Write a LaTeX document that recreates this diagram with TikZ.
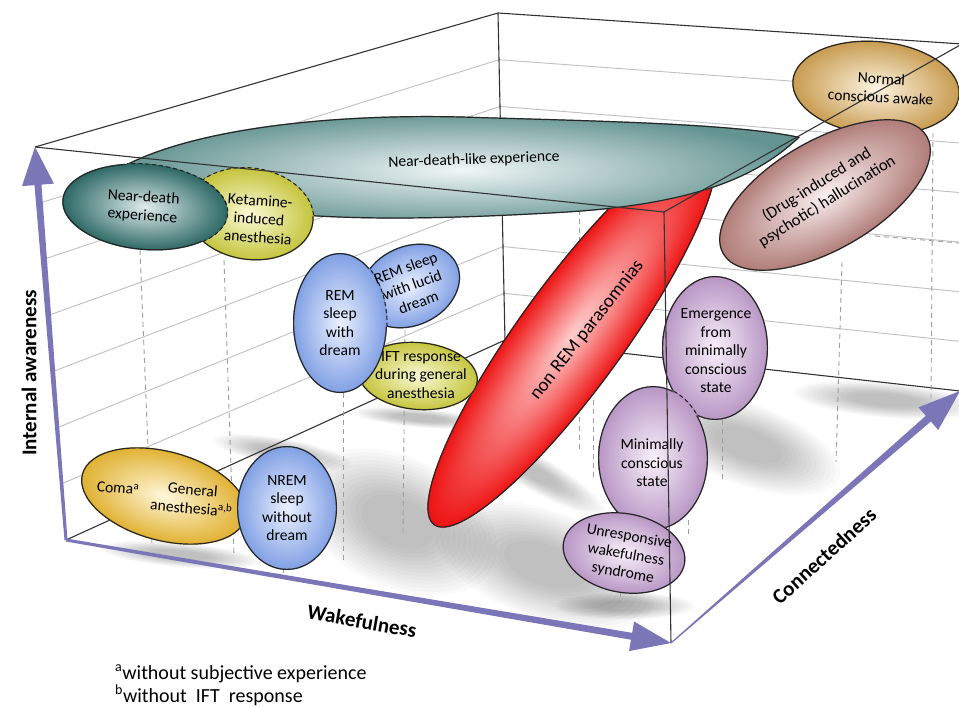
\documentclass[tikz,border=0pt]{standalone}
\usepackage{fontspec}
\setmainfont{Carlito}
\usetikzlibrary{calc}
\definecolor{axiscol}{RGB}{122,118,184}
\definecolor{Tin}{RGB}{240,246,246}\definecolor{Tout}{RGB}{100,148,146}
\definecolor{Nin}{RGB}{222,235,234}\definecolor{Nout}{RGB}{44,104,101}
\definecolor{Kin}{RGB}{250,250,215}\definecolor{Kout}{RGB}{196,196,60}
\definecolor{Cin}{RGB}{255,248,220}\definecolor{Cout}{RGB}{224,176,48}
\definecolor{Bin}{RGB}{235,240,255}\definecolor{Bout}{RGB}{128,160,228}
\definecolor{Lin}{RGB}{248,240,250}\definecolor{Lout}{RGB}{184,150,196}
\definecolor{Hin}{RGB}{250,240,240}\definecolor{Hout}{RGB}{176,124,120}
\definecolor{Min}{RGB}{252,244,225}\definecolor{Mout}{RGB}{200,155,80}
\definecolor{Rin}{RGB}{255,205,205}\definecolor{Rout}{RGB}{238,18,18}
\tikzset{
 gridl/.style={draw=black!25, line width=0.9pt},
 boxl/.style={draw=black!80, line width=1.1pt},
 dropl/.style={draw=black!38, line width=0.9pt, dash pattern=on 5pt off 4pt},
 dashb/.style={draw=black!85, line width=1.1pt, dash pattern=on 4pt off 3pt},
 lbl/.style={align=center, font=\fontsize{15.6}{18.5}\selectfont, inner sep=0pt},
 axl/.style={font=\fontsize{21}{25}\selectfont\bfseries, inner sep=0pt},
 shadowc/.style={fill=black, opacity=0.019},
}
% ellipse data: cx, cy, rx, ry, angle
\def\ovN{{145}{207}{83}{43}{-5}}
\def\ovK{{250}{214}{64}{46}{-8}}
\def\ovNm{{876}{88}{84}{47}{-5}}
\def\ovH{{825}{195}{118}{55}{30}}
\def\ovR{{572}{335}{235}{53}{54}}
\def\ovD{{340}{323}{47}{70}{0}}
\def\ovL{{410}{286}{52}{40}{25}}
\def\ovI{{418}{376}{60}{34}{-5}}
\def\ovC{{164}{496}{85}{45}{-15}}
\def\ovNr{{287}{508}{50}{62}{0}}
\def\ovE{{715}{348}{53}{72}{0}}
\def\ovM{{653}{458}{55}{72}{0}}
\def\ovU{{624}{553}{62}{40}{-10}}
\def\Tpath{(123,166) .. controls (200,125) and (350,112) .. (480,117) .. controls (620,121) and (740,124) .. (800,137) .. controls (760,175) and (700,205) .. (560,213) .. controls (400,222) and (200,228) .. (123,166) -- cycle}
\newcommand\ellclip[5]{\clip[rotate around={#5:(#1,#2)}] (#1,#2) ellipse [x radius=#3, y radius=#4];}
\newcommand\elldraw[6]{\draw[#6, rotate around={#5:(#1,#2)}] (#1,#2) ellipse [x radius=#3, y radius=#4];}
\newcommand\ellbase[7]{%
 \begin{scope}[transform canvas={shift={(#1,#2)},rotate=#5}]
  \clip (0,0) ellipse [x radius=#3, y radius=#4];
  \shade[inner color=#6, outer color=#7] (0,0) ellipse [x radius=#3, y radius=#4];
  \draw[line width=2.4pt, black!85] (0,0) ellipse [x radius=#3, y radius=#4];
 \end{scope}}
\newcommand\ellshade[7]{%
 \begin{scope}[transform canvas={shift={(#1,#2)},rotate=#5}]
  \clip (0,0) ellipse [x radius=#3, y radius=#4];
  \shade[inner color=#6, outer color=#7] (0,0) ellipse [x radius=#3, y radius=#4];
 \end{scope}}
\newcommand\shadowell[5]{%
 \foreach \s in {1.35,1.28,1.21,1.14,1.07,1.0,0.93,0.86,0.79,0.72,0.65,0.58,0.5}{
  \fill[shadowc, rotate around={#5:(#1,#2)}] (#1,#2) ellipse [x radius=\s*#3, y radius=\s*#4];}}
\newcommand\taperarrow[6]{%
 \coordinate (hb) at ($(#2)!#5!(#1)$);
 \fill[axiscol] ($(#1)!#3!90:(#2)$) -- ($(hb)!#4!-90:(#1)$) -- ($(hb)!#6!-90:(#1)$) -- (#2)
   -- ($(hb)!#6!90:(#1)$) -- ($(hb)!#4!90:(#1)$) -- ($(#1)!#3!-90:(#2)$) -- cycle;}
\begin{document}
\begin{tikzpicture}[x=1pt,y=-1pt]
\useasboundingbox (0,0) rectangle (959,707);
\fill[white] (0,0) rectangle (959,707);
\clip (0,0) rectangle (959,707);
% box corners
\coordinate (FBL) at (66,540);
\coordinate (FTL) at (35,147);
\coordinate (FBR) at (671,643);
\coordinate (FTR) at (664,212);
\coordinate (BBL) at (505,340);
\coordinate (BTL) at (498,13);
\coordinate (BBR) at (960,391);
\coordinate (BTR) at (962,44);
% floor shadows
\shadowell{398}{522}{78}{48}{-25}
\shadowell{282}{452}{52}{10}{-10}
\shadowell{420}{418}{50}{7}{-5}
\shadowell{545}{565}{86}{40}{-20}
\shadowell{530}{470}{64}{13}{-30}
\shadowell{748}{445}{72}{30}{-20}
\shadowell{885}{400}{68}{13}{-5}
\shadowell{180}{555}{60}{9}{-5}
\shadowell{625}{606}{52}{10}{0}
% grid
\foreach \i in {1,...,6} {
  \draw[gridl] ($(FTL)!\i/7!(FBL)$) -- ($(BTL)!\i/7!(BBL)$) -- ($(BTR)!\i/7!(BBR)$);
}
% back edges
\draw[boxl] (FTL) -- (BTL) -- (BTR);
\draw[boxl] (BTL) -- (BBL) -- (BBR);
\draw[boxl] (FBL) -- (BBL);
% drop lines
\draw[dropl] (140,250) -- (152,547);
\draw[dropl] (224,260) -- (234,557);
\draw[dropl] (343,393) -- (343,562);
\draw[dropl] (405,330) -- (403,533);
\draw[dropl] (579,210) -- (579,450);
\draw[dropl] (593,400) -- (593,480);
\draw[dropl] (722,420) -- (722,483);
\draw[dropl] (842,262) -- (836,462);
\draw[dropl] (933,133) -- (931,398);
\draw[dropl] (875,236) -- (959,243);
\draw[dropl] (688,520) -- (688,535);
\draw[dropl] (620,592) -- (620,602);
\draw[dropl] (283,568) -- (283,578);
% ellipses
\expandafter\ellbase\ovNm{Min}{Mout}
\expandafter\ellbase\ovR{Rin}{Rout}
\begin{scope}
 \clip \Tpath;
 \shade[inner color=Tin, outer color=Tout] \Tpath;
 \draw[line width=2.4pt, black!85] \Tpath;
\end{scope}
\expandafter\ellbase\ovH{Hin}{Hout}
\begin{scope}\clip \Tpath; \expandafter\ellshade\ovH{Hin}{Hout}\expandafter\elldraw\ovH{dashb}\end{scope}
\expandafter\ellbase\ovK{Kin}{Kout}
\begin{scope}\clip \Tpath; \expandafter\ellshade\ovK{Kin}{Kout}\expandafter\elldraw\ovK{dashb}\end{scope}
\expandafter\ellbase\ovN{Nin}{Nout}
\begin{scope}\clip \Tpath; \expandafter\ellshade\ovN{Nin}{Nout}\end{scope}
\begin{scope}\expandafter\ellclip\ovK \expandafter\ellshade\ovN{Nin}{Nout}\end{scope}
\begin{scope}\clip \Tpath; \expandafter\elldraw\ovN{dashb}\end{scope}
\begin{scope}\expandafter\ellclip\ovK \expandafter\elldraw\ovN{dashb}\end{scope}
\expandafter\ellbase\ovC{Cin}{Cout}
\expandafter\ellbase\ovNr{Bin}{Bout}
\expandafter\ellbase\ovI{Kin}{Kout}
\expandafter\ellbase\ovL{Bin}{Bout}
\expandafter\ellbase\ovD{Bin}{Bout}
\begin{scope}\expandafter\ellclip\ovL \expandafter\ellshade\ovD{Bin}{Bout}\expandafter\elldraw\ovD{dashb}\end{scope}
\expandafter\ellbase\ovE{Lin}{Lout}
\expandafter\ellbase\ovM{Lin}{Lout}
\begin{scope}\expandafter\ellclip\ovE \expandafter\ellshade\ovM{Lin}{Lout}\expandafter\elldraw\ovM{dashb}\end{scope}
\expandafter\ellbase\ovU{Lin}{Lout}
% front edges
\draw[boxl] (FTL) -- (FTR) -- (BTR);
\draw[boxl] (FTR) -- (FBR);
% axes
\taperarrow{FBL}{FTL}{1.5pt}{3.5pt}{38pt}{16pt}
\taperarrow{FBL}{FBR}{1.5pt}{3.5pt}{40pt}{15pt}
\taperarrow{FBR}{BBR}{0.6pt}{3.8pt}{42pt}{15pt}
% labels
\node[lbl, rotate=2] (tT) at (474,160) {Near-death-like experience};
\node[lbl, rotate=-4] (tN) at (143,207) {Near-death\\experience};
\node[lbl, rotate=-4] (tK) at (259,219) {Ketamine-\\induced\\anesthesia};
\node[lbl, rotate=-3] (tNm) at (881,88) {Normal\\conscious awake};
\node[lbl, rotate=32, font=\fontsize{16.5}{19.5}\selectfont] (tH) at (822,193) {(Drug-induced and\\psychotic) hallucination};
\node[lbl, rotate=52, font=\fontsize{19}{22}\selectfont] (tR) at (587,330) {non REM parasomnias};
\node[lbl] (tD) at (340,323) {REM\\sleep\\with\\dream};
\node[lbl, rotate=20] (tL) at (412,285) {REM sleep\\with lucid\\dream};
\node[lbl] (tI) at (421,375) {IFT response\\during general\\anesthesia};
\node[lbl, rotate=-5] (tC1) at (118,488) {Coma\textsuperscript{a}};
\node[lbl, rotate=-5] (tC2) at (192,499) {General\\anesthesia\textsuperscript{a,b}};
\node[lbl] (tNr) at (287,508) {NREM\\sleep\\without\\dream};
\node[lbl] (tE) at (716,351) {Emergence\\from\\minimally\\conscious\\state};
\node[lbl] (tM) at (652,463) {Minimally\\conscious\\state};
\node[lbl, rotate=-10] (tU) at (626,555) {Unresponsive\\wakefulness\\syndrome};
% axis labels
\node[axl, rotate=90] (tIA) at (29,373) {Internal awareness};
\node[axl, rotate=-10] (tW) at (362,621) {Wakefulness};
\node[axl, rotate=42] (tCn) at (824,556) {Connectedness};
% footnotes
\node[anchor=base west, inner sep=0pt, font=\fontsize{20}{24}\selectfont] (fa) at (115,679) {\textsuperscript{a}without subjective experience};
\node[anchor=base west, inner sep=0pt, font=\fontsize{20}{24}\selectfont] (fb) at (115,702) {\textsuperscript{b}without\ \ IFT\ \ response};
\end{tikzpicture}
\end{document}
